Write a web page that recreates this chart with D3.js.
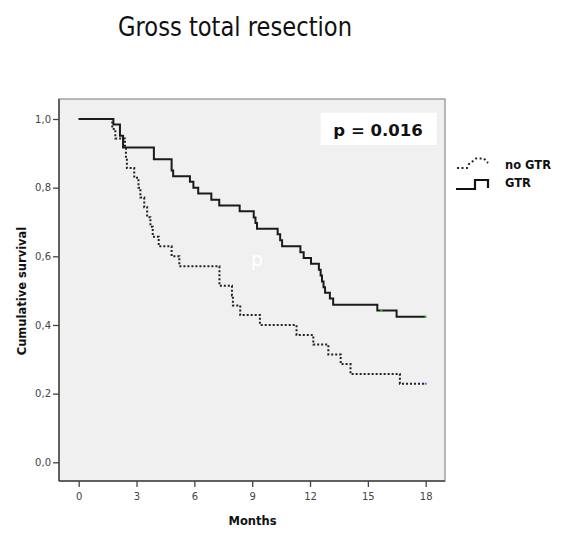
<!DOCTYPE html>
<html>
<head>
<meta charset="utf-8">
<script src="https://d3js.org/d3.v7.min.js"></script>
<style>
  body { margin: 0; background: #fff; }
  svg { display: block; }
</style>
</head>
<body>
<div id="chart"></div>
<script>
// Kaplan-Meier steps: [month, cumulative survival]
var gtrTimes = [0, 1.8, 2.14, 2.3, 3.9, 4.82, 4.9, 5.77, 5.95, 6.2, 6.88, 7.29, 8.35, 9.08, 9.17, 9.25,
                10.32, 10.45, 10.55, 11.5, 11.67, 12.05, 12.46, 12.55, 12.62, 12.7, 12.78, 13.03, 13.2, 15.49, 16.49, 18];
var gtrSurv = [1.0, 0.984, 0.951, 0.917, 0.883, 0.85, 0.833, 0.817, 0.8, 0.783, 0.765, 0.748, 0.731, 0.713, 0.697, 0.68,
               0.664, 0.647, 0.629, 0.612, 0.595, 0.578, 0.561, 0.544, 0.527, 0.51, 0.494, 0.477, 0.459, 0.442, 0.424, 0.424];
var noGtrTimes = [0, 1.74, 1.9, 2.4, 2.45, 2.5, 2.88, 3.1, 3.2, 3.4, 3.55, 3.72, 3.84, 4.15, 4.82, 5.22,
                  7.3, 7.95, 8.0, 8.38, 9.4, 11.3, 12.17, 12.95, 13.59, 14.1, 16.66, 18];
var noGtrSurv = [1.0, 0.971, 0.943, 0.914, 0.886, 0.857, 0.829, 0.8, 0.771, 0.743, 0.714, 0.686, 0.657, 0.629, 0.6, 0.571,
                 0.514, 0.486, 0.457, 0.429, 0.4, 0.371, 0.343, 0.314, 0.286, 0.257, 0.229, 0.229];
var xTicks = [0, 3, 6, 9, 12, 15, 18];
var yTicks = [0, 0.2, 0.4, 0.6, 0.8, 1.0];
var seriesNames = ["no GTR", "GTR"];

var width = 563, height = 534;
var frame = {left: 59, top: 99, right: 445, bottom: 481};

var svg = d3.select("#chart").append("svg")
    .attr("width", width)
    .attr("height", height);

var x = d3.scaleLinear().domain([0, 18]).range([78.7, 425.7]);
var y = d3.scaleLinear().domain([0, 1]).range([462.3, 119]);

// title
svg.append("text")
    .attr("x", 118).attr("y", 36)
    .attr("textLength", 234).attr("lengthAdjust", "spacingAndGlyphs")
    .style("font-family", "DejaVu Sans, sans-serif")
    .style("font-size", "26px")
    .style("fill", "#111")
    .text("Gross total resection");

// plot background
svg.append("rect")
    .attr("x", frame.left).attr("y", frame.top)
    .attr("width", frame.right - frame.left)
    .attr("height", frame.bottom - frame.top)
    .style("fill", "#f0f0f0")
    .style("stroke", "#8a8a8a")
    .style("stroke-width", 1.2);

// faint "p" watermark
svg.append("text")
    .attr("x", 251).attr("y", 266)
    .style("font-family", "DejaVu Sans, sans-serif")
    .style("font-size", "19px")
    .style("fill", "#fff")
    .text("p");

// axes
var yAxis = svg.append("g")
    .attr("transform", "translate(" + frame.left + ",0)")
    .call(d3.axisLeft(y).tickValues(yTicks).tickSize(6).tickPadding(2)
        .tickFormat(function(d) { return d3.format(".1f")(d).replace(".", ","); }));
var xAxis = svg.append("g")
    .attr("transform", "translate(0," + frame.bottom + ")")
    .call(d3.axisBottom(x).tickValues(xTicks).tickSize(6).tickPadding(6));
[yAxis, xAxis].forEach(function(a) {
    a.select(".domain").remove();
    a.selectAll("line").style("stroke", "#444").style("stroke-width", 1.3);
    a.selectAll("text")
        .style("font-family", "DejaVu Sans, sans-serif")
        .style("font-size", "10px")
        .style("fill", "#444");
});
svg.append("line")
    .attr("x1", frame.left).attr("x2", frame.left)
    .attr("y1", frame.top).attr("y2", frame.bottom)
    .style("stroke", "#444").style("stroke-width", 1.5);
svg.append("line")
    .attr("x1", frame.left).attr("x2", frame.right)
    .attr("y1", frame.bottom).attr("y2", frame.bottom)
    .style("stroke", "#444").style("stroke-width", 1.5);

// axis titles
svg.append("text")
    .attr("transform", "translate(26,291) rotate(-90)")
    .attr("text-anchor", "middle")
    .style("font-family", "DejaVu Sans, sans-serif")
    .style("font-weight", "bold")
    .style("font-size", "11.5px")
    .style("fill", "#111")
    .text("Cumulative survival");
svg.append("text")
    .attr("x", 252.5).attr("y", 525)
    .attr("text-anchor", "middle")
    .style("font-family", "DejaVu Sans, sans-serif")
    .style("font-weight", "bold")
    .style("font-size", "11.5px")
    .style("fill", "#111")
    .text("Months");

// curves
var line = d3.line()
    .x(function(d) { return x(d[0]); })
    .y(function(d) { return y(d[1]); })
    .curve(d3.curveStepAfter);

var noGtr = noGtrTimes.map(function(t, i) { return [t, noGtrSurv[i]]; });
var gtr = gtrTimes.map(function(t, i) { return [t, gtrSurv[i]]; });

svg.append("path")
    .datum(noGtr)
    .attr("d", line)
    .style("fill", "none")
    .style("stroke", "#222")
    .style("stroke-width", 2)
    .style("stroke-dasharray", "2,2");
svg.append("path")
    .datum(gtr)
    .attr("d", line)
    .style("fill", "none")
    .style("stroke", "#1a1a1a")
    .style("stroke-width", 2);

// censor marks
svg.append("rect")
    .attr("x", x(15.7) - 1).attr("y", y(0.442) - 1)
    .attr("width", 2).attr("height", 2).style("fill", "#3c3");
svg.append("rect")
    .attr("x", x(18) - 1).attr("y", y(0.424) - 1)
    .attr("width", 2).attr("height", 2).style("fill", "#3c3");
svg.append("rect")
    .attr("x", x(18) - 1).attr("y", y(0.229) - 1)
    .attr("width", 2).attr("height", 2).style("fill", "#66f");

// p-value box
svg.append("rect")
    .attr("x", 320.7).attr("y", 112.7)
    .attr("width", 116).attr("height", 32.3)
    .style("fill", "#fff");
svg.append("text")
    .attr("x", 378).attr("y", 135.5)
    .attr("text-anchor", "middle")
    .style("font-family", "DejaVu Sans, sans-serif")
    .style("font-weight", "bold")
    .style("font-size", "16.5px")
    .style("fill", "#111")
    .text("p = 0.016");

// legend
var legend = svg.append("g");
legend.append("path")
    .attr("d", "M457,168 L467,168 L469,164 L473,161 L476,158.5 L484,158.5 L488,163")
    .style("fill", "none").style("stroke", "#222")
    .style("stroke-width", 2).style("stroke-dasharray", "2,2.5");
legend.append("path")
    .attr("d", "M456,189 L475,189 L475,180 L488,180 L488,188")
    .style("fill", "none").style("stroke", "#111").style("stroke-width", 2.2);
legend.selectAll("text.leg")
    .data(seriesNames)
    .enter().append("text")
    .attr("class", "leg")
    .attr("x", 505)
    .attr("y", function(d, i) { return 169 + i * 18; })
    .style("font-family", "DejaVu Sans, sans-serif")
    .style("font-weight", "bold")
    .style("font-size", "11.5px")
    .style("fill", "#111")
    .text(function(d) { return d; });
</script>
</body>
</html>
